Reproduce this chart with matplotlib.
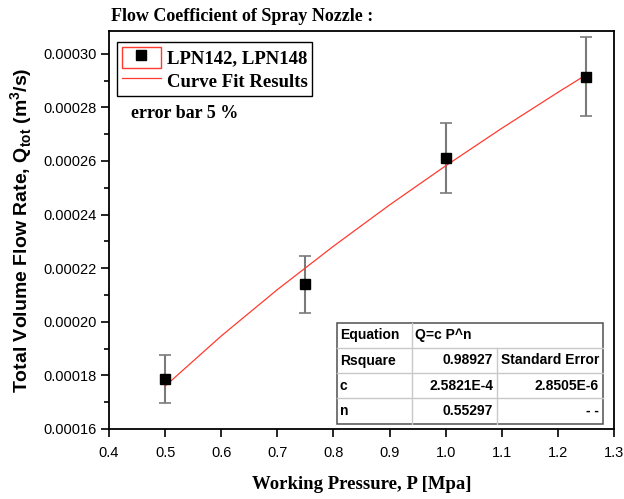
import matplotlib
matplotlib.use("Agg")
import matplotlib.pyplot as plt
from matplotlib.patches import Rectangle
from matplotlib.lines import Line2D
from matplotlib.legend_handler import HandlerTuple
from matplotlib.ticker import MultipleLocator, FormatStrFormatter

# measured points (working pressure [MPa], flow rate [m^3/s])
pressure = [0.5, 0.75, 1.0, 1.25]
flow_rate = [0.0001785, 0.000214, 0.000261, 0.0002915]
err_frac = 0.05

# fitted curve Q = c P^n
fit_p = [0.5, 0.6, 0.7, 0.8, 0.9, 1.0, 1.1, 1.2, 1.25]
fit_q = [0.0001760, 0.0001947, 0.0002120, 0.0002282, 0.0002436,
         0.0002582, 0.0002722, 0.0002856, 0.0002921]

table_rows = [
    ["Equation", "Q=c P^n", ""],
    ["Rsquare", "0.98927", "Standard Error"],
    ["c", "2.5821E-4", "2.8505E-6"],
    ["n", "0.55297", "- -"],
]

W, H = 624, 499
fig = plt.figure(figsize=(W / 100, H / 100), dpi=100)
ax = fig.add_axes([109 / W, 1 - 429 / H, 505 / W, 398 / H])


def px(x, y):
    # figure pixel (from top-left) -> figure fraction
    return x / W, 1 - y / H


serif = "Liberation Serif"
sans = "Liberation Sans"

errs = [v * err_frac for v in flow_rate]
ax.errorbar(pressure, flow_rate, yerr=errs, fmt="none", ecolor="#7a7a7a",
            elinewidth=1.5, capsize=4, capthick=1.2, zorder=2)
fit_line, = ax.plot(fit_p, fit_q, color="#ff3b2f", lw=0.9, zorder=3)
pts, = ax.plot(pressure, flow_rate, ls="none", marker="s", ms=6.5,
               color="black", zorder=4)

ax.set_xlim(0.4, 1.3)
ax.set_ylim(0.00016, 0.0003085)
ax.xaxis.set_major_locator(MultipleLocator(0.1))
ax.xaxis.set_major_formatter(FormatStrFormatter("%.1f"))
ax.yaxis.set_major_locator(MultipleLocator(0.00002))
ax.yaxis.set_minor_locator(MultipleLocator(0.00001))
ax.yaxis.set_major_formatter(FormatStrFormatter("%.5f"))
ax.tick_params(which="major", direction="out", length=6, width=1.2,
               labelsize=10.5, pad=3)
ax.tick_params(axis="x", which="major", pad=6)
ax.tick_params(which="minor", direction="out", length=3.5, width=1.2)
for lab in ax.get_xticklabels() + ax.get_yticklabels():
    lab.set_fontfamily(sans)
for sp in ax.spines.values():
    sp.set_linewidth(1.3)

ax.set_xlabel("Working Pressure, P [Mpa]", fontfamily=serif,
              fontweight="bold", fontsize=13.5, labelpad=12)
ax.set_ylabel(r"Total Volume Flow Rate, Q$_\mathregular{tot}$ (m$^\mathregular{3}$/s)",
              fontfamily=sans, fontweight="bold", fontsize=14, labelpad=6)

fig.text(*px(111, 21), "Flow Coefficient of Spray Nozzle :", fontfamily=serif,
         fontweight="bold", fontsize=13, va="baseline", ha="left")

box = Rectangle((0, 0), 1, 1, facecolor="white", edgecolor="#ff3b2f", lw=1)
leg = ax.legend([(box, pts), fit_line], ["LPN142, LPN148", "Curve Fit Results"],
                handler_map={tuple: HandlerTuple(ndivide=1, pad=0)},
                loc="upper left", bbox_to_anchor=px(117, 42),
                bbox_transform=fig.transFigure, frameon=True, fancybox=False,
                edgecolor="black", framealpha=1,
                prop={"family": serif, "weight": "bold", "size": 13.5},
                handlelength=2.1, handleheight=1.35, handletextpad=0.3,
                labelspacing=0.12, borderpad=0.25, borderaxespad=0)
leg.get_frame().set_linewidth(1.0)

fig.text(*px(131, 118), "error bar 5 %", fontfamily=serif, fontweight="bold",
         fontsize=13, va="baseline", ha="left")

# results table
xs = [337, 412, 497, 603]
ys = [323, 348, 373, 398, 424]
light = "#c8c8c8"
for y in ys[1:-1]:
    fig.add_artist(Line2D([px(xs[0], 0)[0], px(xs[-1], 0)[0]],
                          [px(0, y)[1]] * 2, color=light, lw=1))
for i, x in enumerate(xs[1:-1]):
    top = ys[0] if i == 0 else ys[1]
    fig.add_artist(Line2D([px(x, 0)[0]] * 2, [px(0, top)[1], px(0, ys[-1])[1]],
                          color=light, lw=1))
fig.add_artist(Rectangle(px(xs[0], ys[-1]), (xs[-1] - xs[0]) / W,
                         (ys[-1] - ys[0]) / H, fill=False,
                         edgecolor="#505050", lw=1.1))
for r, row in enumerate(table_rows):
    yc = (ys[r] + ys[r + 1]) / 2
    for c, txt in enumerate(row):
        if not txt:
            continue
        if c == 0 or r == 0:
            xx, ha = xs[c] + 3, "left"
        else:
            xx, ha = xs[c + 1] - 4, "right"
        fig.text(*px(xx, yc), txt, fontfamily=sans, fontweight="bold",
                 fontsize=10, ha=ha, va="center")

fig.savefig("out.png", dpi=100)
